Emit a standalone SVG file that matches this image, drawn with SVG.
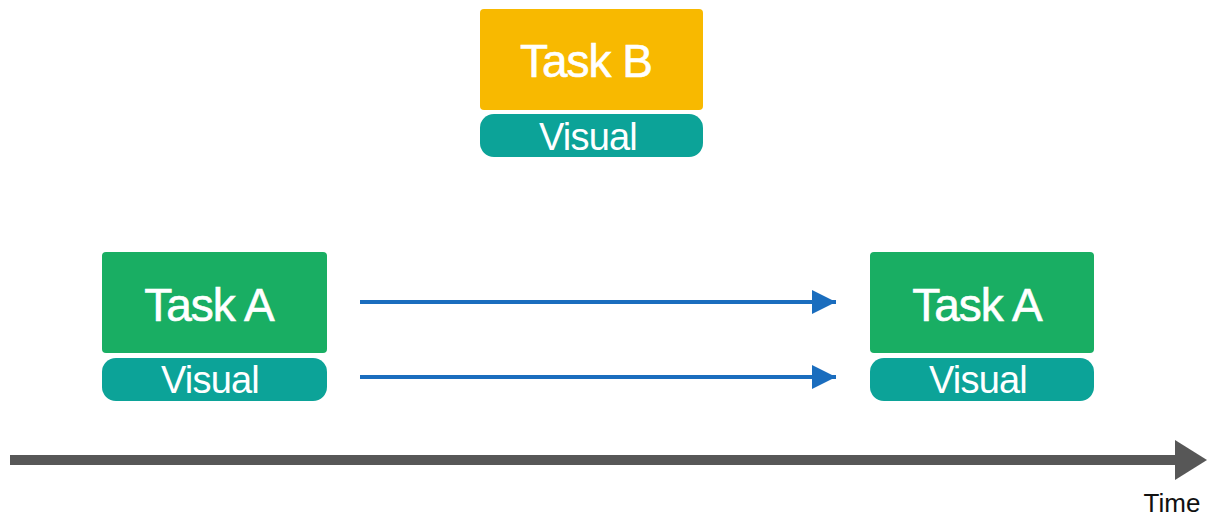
<svg xmlns="http://www.w3.org/2000/svg" width="1213" height="518" viewBox="0 0 1213 518">
  <style>
    .task-b { fill: #F8B900; }
    .task-a { fill: #19AE63; }
    .visual { fill: #0CA398; }
    .title { font-family: "Liberation Sans", Arial, sans-serif; font-size: 46px; letter-spacing: -1px; fill: #ffffff; stroke: #ffffff; stroke-width: 0.6; text-anchor: middle; }
    .label { font-family: "Liberation Sans", Arial, sans-serif; font-size: 38px; letter-spacing: -0.8px; fill: #ffffff; text-anchor: middle; }
    .flow { stroke: #1A6DBE; stroke-width: 4; fill: none; }
    .axis { stroke: #575757; stroke-width: 10; fill: none; }
  </style>
  <defs>
    <marker id="blueHead" markerUnits="userSpaceOnUse" markerWidth="26" markerHeight="26" refX="24" refY="13" orient="auto">
      <path d="M0,1 L24,13 L0,25 Z" fill="#1A6DBE"/>
    </marker>
  </defs>
  <rect width="1213" height="518" fill="#ffffff"/>

  <g id="task-b">
    <rect class="task-b" x="480" y="9" width="223" height="101" rx="4"/>
    <text class="title" x="586" y="77">Task B</text>
  </g>
  <g id="visual-b">
    <rect class="visual" x="480" y="114" width="223" height="43" rx="14"/>
    <text class="label" x="588" y="150">Visual</text>
  </g>

  <g id="task-a-left">
    <rect class="task-a" x="102" y="252" width="225" height="101" rx="4"/>
    <text class="title" x="209" y="321">Task A</text>
  </g>
  <g id="visual-a-left">
    <rect class="visual" x="102" y="358" width="225" height="43" rx="14"/>
    <text class="label" x="210" y="393">Visual</text>
  </g>

  <g id="task-a-right">
    <rect class="task-a" x="870" y="252" width="224" height="101" rx="4"/>
    <text class="title" x="977" y="321">Task A</text>
  </g>
  <g id="visual-a-right">
    <rect class="visual" x="870" y="358" width="224" height="43" rx="14"/>
    <text class="label" x="978" y="393">Visual</text>
  </g>

  <g id="connectors">
    <line class="flow" x1="360" y1="302" x2="836" y2="302" marker-end="url(#blueHead)"/>
    <line class="flow" x1="360" y1="377" x2="836" y2="377" marker-end="url(#blueHead)"/>
  </g>

  <g id="time-axis">
    <line class="axis" x1="10" y1="460" x2="1178" y2="460"/>
    <path d="M1175,440 L1207,460 L1175,480 Z" fill="#575757"/>
    <text x="1172" y="512" font-family="'Liberation Sans', Arial, sans-serif" font-size="26" fill="#111111" text-anchor="middle">Time</text>
  </g>
</svg>
